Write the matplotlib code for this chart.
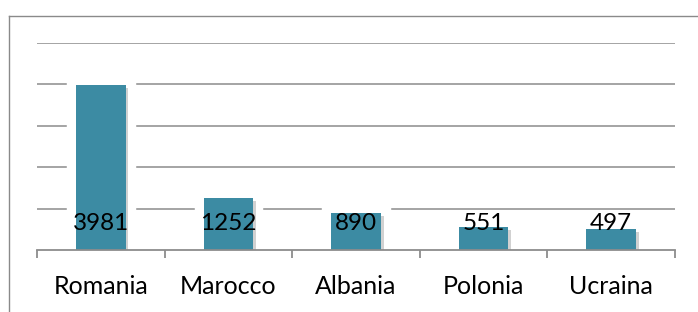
import matplotlib
matplotlib.use("Agg")
import matplotlib.pyplot as plt
import matplotlib.patheffects as pe

categories = ["Romania", "Marocco", "Albania", "Polonia", "Ucraina"]
values = [3981, 1252, 890, 551, 497]

W, H = 698, 312
fig = plt.figure(figsize=(W / 100, H / 100), dpi=100)
plt.rcParams['font.family'] = ['Lato', 'DejaVu Sans']

# outer frame: an empty axes whose left and top spines form the border
fx, fy = 8.5 / W, 1 - 15.5 / H
frame = fig.add_axes([fx, -0.2, 1.2, fy + 0.2], zorder=0)
frame.set_xticks([])
frame.set_yticks([])
frame.patch.set_visible(False)
for s in ['right', 'bottom']:
    frame.spines[s].set_visible(False)
for s in ['left', 'top']:
    frame.spines[s].set_color('#8a8a8a')
    frame.spines[s].set_linewidth(1.0)

left, right = 37 / W, 675 / W
bottom, top = 1 - 250 / H, 1 - 43 / H
ax = fig.add_axes([left, bottom, right - left, top - bottom], zorder=1)
ax.patch.set_visible(False)

x = list(range(len(categories)))
bars = ax.bar(x, values, width=0.39, color='#3c8ba3', zorder=3)
for b in bars:
    b.set_path_effects([
        pe.Stroke(linewidth=14, foreground='white'),
        pe.SimplePatchShadow(offset=(2, -2), shadow_rgbFace='#000000', alpha=0.18),
        pe.Normal(),
    ])

ax.set_xlim(-0.5, len(categories) - 0.5)
ax.set_ylim(0, 5000)
ax.set_yticks([1000, 2000, 3000, 4000, 5000])
ax.yaxis.grid(True, color='#8c8c8c', linewidth=1.1, zorder=0)
ax.set_axisbelow(True)
ax.tick_params(axis='y', length=0, labelleft=False)

for s in ['top', 'right', 'left']:
    ax.spines[s].set_visible(False)
ax.spines['bottom'].set_color('#8c8c8c')
ax.spines['bottom'].set_linewidth(1.3)
ax.spines['bottom'].set_zorder(5)

ax.set_xticks(x)
ax.set_xticklabels(categories, fontsize=18, color='black')
ax.tick_params(axis='x', which='major', length=0, pad=18)
ax.set_xticks([i - 0.5 for i in range(len(categories) + 1)], minor=True)
ax.tick_params(axis='x', which='minor', length=6, width=1.3, color='#8c8c8c', direction='out')

for xi, v in zip(x, values):
    ax.annotate(str(v), (xi, 0), xytext=(0, 26 * 0.72), textcoords='offset points',
                ha='center', va='center', fontsize=17.5, color='black', zorder=6)

fig.savefig('out.png', dpi=100, facecolor='white')
